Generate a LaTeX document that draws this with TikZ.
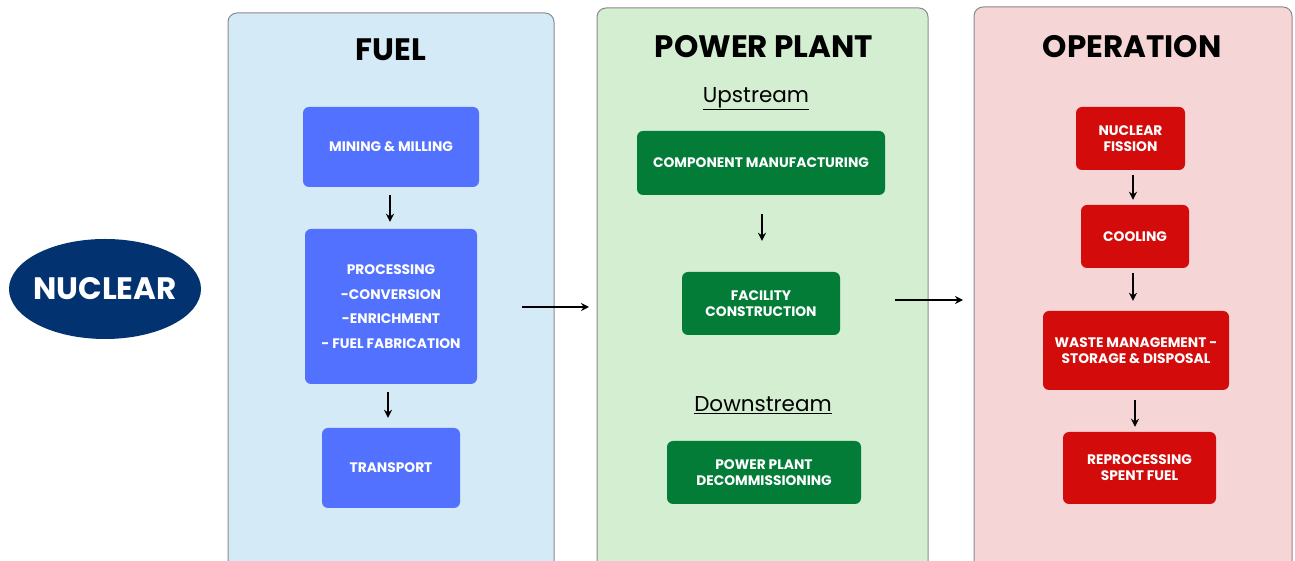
\documentclass[tikz,border=0pt]{standalone}
\usepackage{fontspec}
\setmainfont{Poppins}
\usetikzlibrary{shapes.geometric,arrows.meta}
\definecolor{fuelbg}{HTML}{D4EAF6}
\definecolor{plantbg}{HTML}{D3EED0}
\definecolor{opbg}{HTML}{F5D5D5}
\definecolor{bluebox}{HTML}{5271FF}
\definecolor{greenbox}{HTML}{027C37}
\definecolor{redbox}{HTML}{D40B0B}
\definecolor{navy}{HTML}{033270}
\definecolor{panelline}{HTML}{8A8A8A}
\tikzset{
  panel/.style={draw=panelline, line width=1pt, rounded corners=9pt},
  ptitle/.style={font=\fontsize{31}{34}\selectfont\bfseries, text=black},
  stepbox/.style={rounded corners=6pt, text=white, align=center, inner sep=0pt,
     font=\fontsize{13.8}{16}\selectfont\bfseries},
  sub/.style={font=\fontsize{21.5}{24}\selectfont, text=black},
  flow/.style={-{Stealth[length=8pt,width=8pt]}, line width=1.8pt, black},
}
\begin{document}
\begin{tikzpicture}[x=1pt,y=1pt]
\useasboundingbox (0,0) rectangle (1295,561);
% panels (y = 561 - pixel row)
\filldraw[panel, fill=fuelbg] (228,-20) rectangle (554,548);
\filldraw[panel, fill=plantbg] (597,-20) rectangle (928,553);
\filldraw[panel, fill=opbg] (974,-20) rectangle (1292,554);
\node[ptitle] (tfuel) at (391,511) {FUEL};
\node[ptitle] (tplant) at (764,514) {POWER PLANT};
\node[ptitle] (top) at (1132,514) {OPERATION};
% nuclear ellipse
\node[ellipse, fill=navy, minimum width=192pt, minimum height=100pt, inner sep=0pt] (nuc) at (105,272) {};
\node[text=white, font=\fontsize{31}{34}\selectfont\bfseries, inner sep=0pt] (nuctext) at (nuc.center) {NUCLEAR};
% FUEL boxes
\node[stepbox, fill=bluebox, minimum width=176pt, minimum height=80pt] (mine) at (391,414) {MINING \& MILLING};
\node[stepbox, fill=bluebox, minimum width=172pt, minimum height=155pt,
  font=\fontsize{13.8}{24.5}\selectfont\bfseries] (proc) at (391,254.5)
  {PROCESSING\\-CONVERSION\\-ENRICHMENT\\- FUEL FABRICATION};
\node[stepbox, fill=bluebox, minimum width=138pt, minimum height=80pt] (trans) at (391,93) {TRANSPORT};
% POWER PLANT
\node[sub] (up) at (756,462) {\underline{Upstream}};
\node[stepbox, fill=greenbox, minimum width=248pt, minimum height=64pt] (comp) at (761,398) {COMPONENT MANUFACTURING};
\node[stepbox, fill=greenbox, minimum width=158pt, minimum height=63pt] (fac) at (761,257.5) {FACILITY\\CONSTRUCTION};
\node[sub] (down) at (763,156) {\underline{Downstream}};
\node[stepbox, fill=greenbox, minimum width=194pt, minimum height=63pt] (decom) at (764,88.5) {POWER PLANT\\DECOMMISSIONING};
% OPERATION
\node[stepbox, fill=redbox, minimum width=109pt, minimum height=63pt] (fis) at (1130.5,422.5) {NUCLEAR\\FISSION};
\node[stepbox, fill=redbox, minimum width=108pt, minimum height=63pt] (cool) at (1135,324.5) {COOLING};
\node[stepbox, fill=redbox, minimum width=186pt, minimum height=79pt] (waste) at (1136,210.5) {WASTE MANAGEMENT -\\STORAGE \& DISPOSAL};
\node[stepbox, fill=redbox, minimum width=153pt, minimum height=72pt] (repro) at (1139.5,93) {REPROCESSING\\SPENT FUEL};
% arrows
\draw[flow] ([xshift=-1pt,yshift=-8pt]mine.south) -- ([xshift=-1pt,yshift=7pt]proc.north);
\draw[flow] ([xshift=-3pt,yshift=-8pt]proc.south) -- ([xshift=-3pt,yshift=10pt]trans.north);
\draw[flow] ([xshift=1pt,yshift=-19pt]comp.south) -- ([xshift=1pt,yshift=31pt]fac.north);
\draw[flow] ([xshift=2.5pt,yshift=-5pt]fis.south) -- ([xshift=-2pt,yshift=5pt]cool.north);
\draw[flow] ([xshift=-2pt,yshift=-5pt]cool.south) -- ([xshift=-3pt,yshift=10pt]waste.north);
\draw[flow] ([xshift=-1pt,yshift=-10pt]waste.south) -- ([xshift=-4.5pt,yshift=5pt]repro.north);
\coordinate (a1s) at (522,254);
\coordinate (a1e) at (589,254);
\coordinate (a2s) at (895,261);
\coordinate (a2e) at (963,261);
\draw[flow] (a1s) -- (a1e);
\draw[flow] (a2s) -- (a2e);
\end{tikzpicture}
\end{document}
